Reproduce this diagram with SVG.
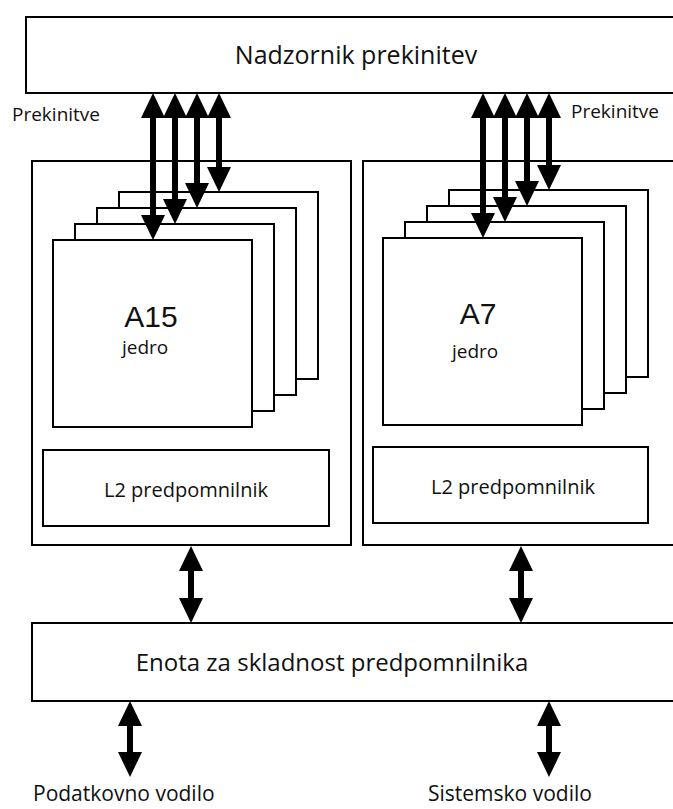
<svg xmlns="http://www.w3.org/2000/svg" width="673" height="809" viewBox="0 0 673 809">
<style>
.box{fill:#fff;stroke:#000;stroke-width:2}
.t{font-family:"Open Sans","Liberation Sans",sans-serif;fill:#111}
.big{font-family:"Liberation Sans",Arial,sans-serif;fill:#111}
.arr{stroke:#000;stroke-width:6;fill:none;marker-start:url(#ah);marker-end:url(#ah)}
</style>
<defs>
<marker id="ah" viewBox="0 0 25 24" refX="5" refY="12" markerWidth="25" markerHeight="24" markerUnits="userSpaceOnUse" orient="auto-start-reverse">
<path d="M0,0 L25,12 L0,24 z" fill="#000"/>
</marker>
</defs>
<rect width="673" height="809" fill="#fff"/>
<g id="nadzornik">
<rect class="box" x="26" y="17" width="660" height="76"/>
<text class="t" x="356" y="64" font-size="25" text-anchor="middle">Nadzornik prekinitev</text>
</g>
<g id="label-prekinitve-left"><text class="t" x="12" y="121" font-size="19">Prekinitve</text></g>
<g id="label-prekinitve-right"><text class="t" x="571" y="118" font-size="19">Prekinitve</text></g>
<g id="cluster-a15">
<rect class="box" x="32" y="161" width="319" height="384"/>
<rect class="box" x="119" y="192" width="199" height="187"/>
<rect class="box" x="97" y="208" width="199" height="187"/>
<rect class="box" x="75" y="224" width="199" height="187"/>
<rect class="box" x="53" y="240" width="199" height="187"/>
<text class="big" x="151" y="327" font-size="30" text-anchor="middle">A15</text>
<text class="t" x="122" y="354" font-size="19">jedro</text>
</g>
<g id="l2-left">
<rect class="box" x="43" y="450" width="286" height="76"/>
<text class="t" x="186" y="497" font-size="20" text-anchor="middle">L2 predpomnilnik</text>
</g>
<g id="cluster-a7">
<rect class="box" x="363" y="161" width="330" height="384"/>
<rect class="box" x="449" y="190" width="199" height="187"/>
<rect class="box" x="427" y="206" width="199" height="187"/>
<rect class="box" x="405" y="222" width="199" height="187"/>
<rect class="box" x="383" y="238" width="199" height="187"/>
<text class="big" x="478" y="324" font-size="30" text-anchor="middle">A7</text>
<text class="t" x="452" y="358" font-size="19">jedro</text>
</g>
<g id="l2-right">
<rect class="box" x="373" y="447" width="275" height="76"/>
<text class="t" x="513" y="494" font-size="20" text-anchor="middle">L2 predpomnilnik</text>
</g>
<g id="coherence">
<rect class="box" x="32" y="623" width="660" height="78"/>
<text class="t" x="332" y="671" font-size="24" text-anchor="middle">Enota za skladnost predpomnilnika</text>
</g>
<g id="label-podatkovno"><text class="t" x="33" y="801" font-size="21">Podatkovno vodilo</text></g>
<g id="label-sistemsko"><text class="t" x="428" y="801" font-size="21">Sistemsko vodilo</text></g>
<g id="connectors">
<line class="arr" x1="153" y1="113" x2="153" y2="220"/>
<line class="arr" x1="175" y1="113" x2="175" y2="204"/>
<line class="arr" x1="197" y1="113" x2="197" y2="188"/>
<line class="arr" x1="219" y1="113" x2="219" y2="172"/>
<line class="arr" x1="483" y1="113" x2="483" y2="218"/>
<line class="arr" x1="505" y1="113" x2="505" y2="202"/>
<line class="arr" x1="527" y1="113" x2="527" y2="186"/>
<line class="arr" x1="549" y1="113" x2="549" y2="170"/>
<line class="arr" x1="191" y1="566" x2="191" y2="603"/>
<line class="arr" x1="521" y1="566" x2="521" y2="603"/>
<line class="arr" x1="130" y1="721" x2="130" y2="757"/>
<line class="arr" x1="549" y1="721" x2="549" y2="757"/>
</g>
</svg>
